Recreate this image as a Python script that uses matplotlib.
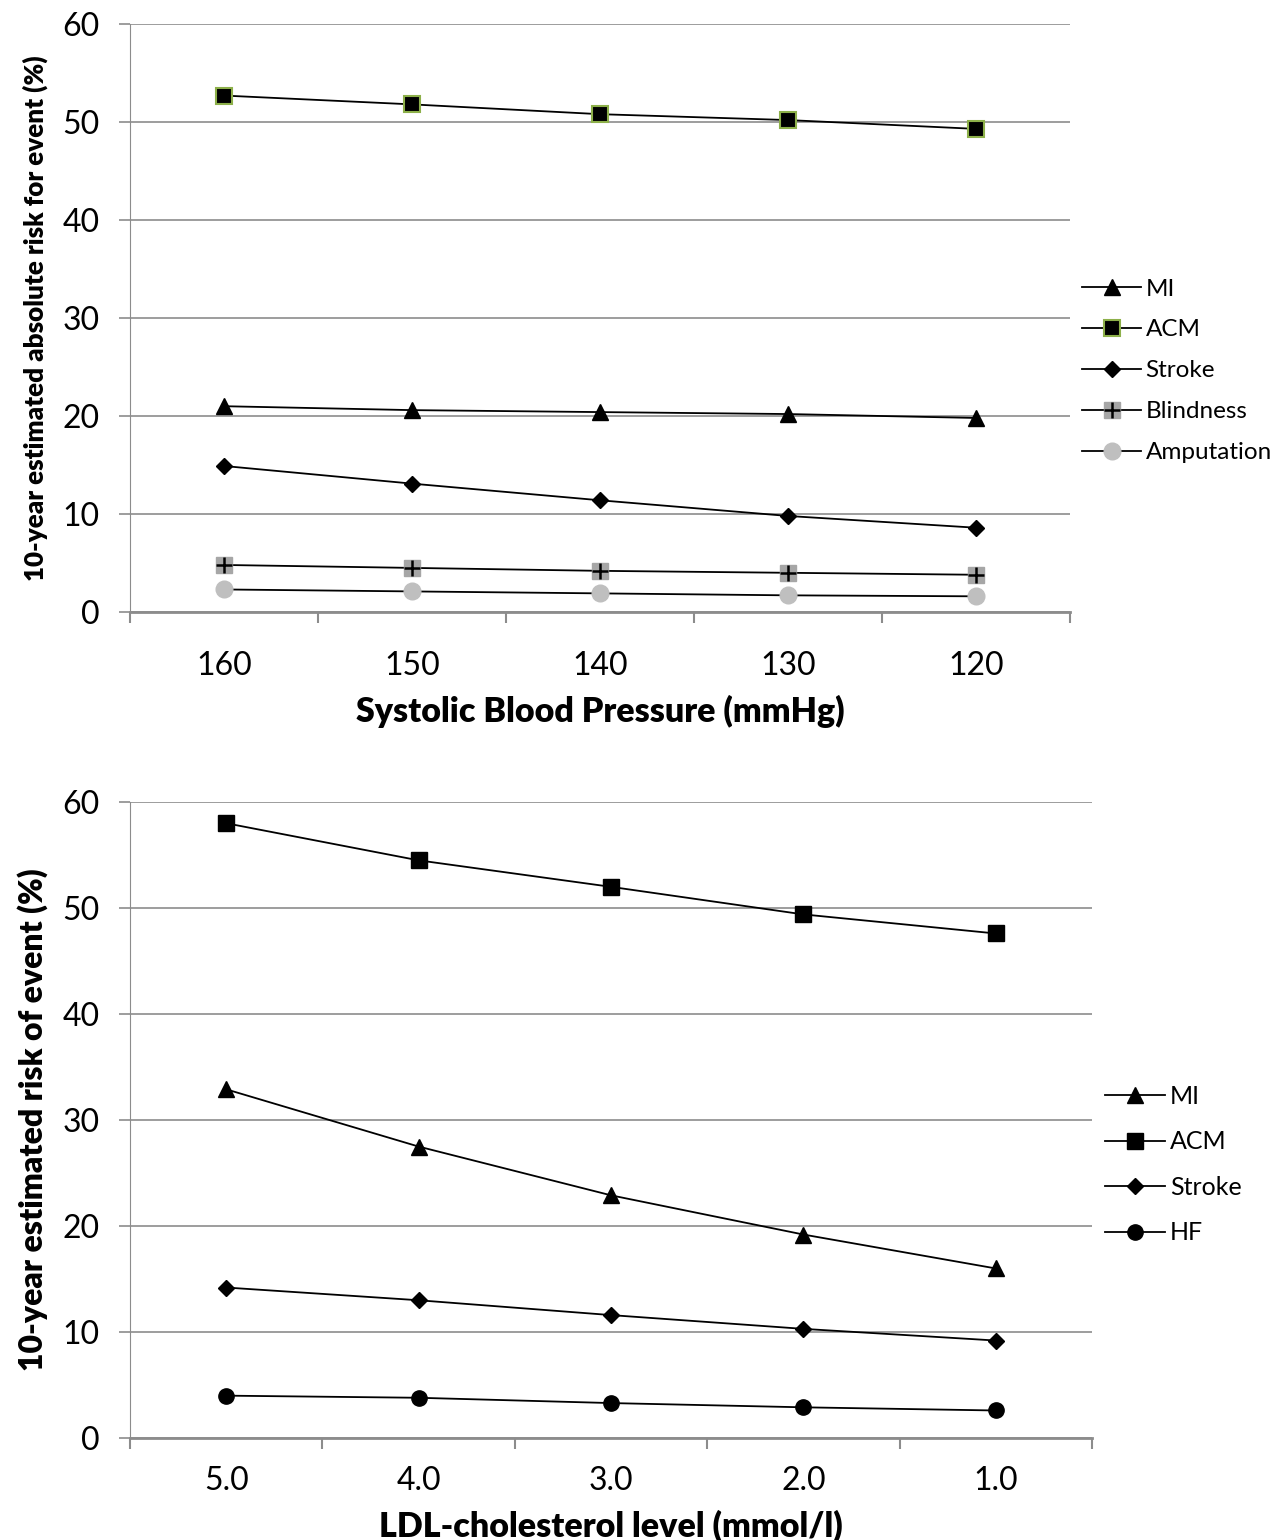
import numpy as np
import matplotlib
matplotlib.use("Agg")
from matplotlib import pyplot as plt

plt.rcParams['font.family'] = ['Lato', 'DejaVu Sans']

# top panel: systolic blood pressure
sbp_labels = ["160", "150", "140", "130", "120"]
sbp_mi = [21.0, 20.6, 20.4, 20.2, 19.8]
sbp_acm = [52.7, 51.8, 50.8, 50.2, 49.3]
sbp_stroke = [14.9, 13.1, 11.4, 9.8, 8.6]
sbp_blind = [4.8, 4.5, 4.2, 4.0, 3.8]
sbp_amput = [2.3, 2.1, 1.9, 1.7, 1.6]

# bottom panel: LDL cholesterol
ldl_labels = ["5.0", "4.0", "3.0", "2.0", "1.0"]
ldl_mi = [32.9, 27.5, 22.9, 19.2, 16.0]
ldl_acm = [58.0, 54.5, 52.0, 49.4, 47.6]
ldl_stroke = [14.2, 13.0, 11.6, 10.3, 9.2]
ldl_hf = [4.0, 3.8, 3.3, 2.9, 2.6]

grid_col = '#8c8c8c'

fig = plt.figure(figsize=(12.88, 15.4), dpi=100)

def style_axes(ax, labels, xlabel, ylabel, ysize, xpad):
    n = len(labels)
    ax.set_xlim(-0.5, n - 0.5)
    ax.set_ylim(0, 60)
    ax.set_yticks(np.arange(0, 61, 10))
    ax.yaxis.grid(True, color=grid_col, linewidth=1.2)
    ax.set_axisbelow(True)
    ax.set_xticks(np.arange(n))
    ax.set_xticklabels(labels, fontsize=23)
    ax.set_xticks(np.arange(n + 1) - 0.5, minor=True)
    ax.tick_params(axis='x', which='major', length=0, pad=xpad)
    ax.tick_params(axis='x', which='minor', length=8, width=1.5, color=grid_col, direction='out')
    ax.tick_params(axis='y', length=8, width=1.2, color=grid_col, labelsize=23, pad=14)
    for s in ['top', 'right']:
        ax.spines[s].set_visible(False)
    ax.spines['left'].set_color(grid_col)
    ax.spines['bottom'].set_color(grid_col)
    ax.spines['bottom'].set_linewidth(2)
    ax.set_xlabel(xlabel, fontsize=24.5, fontweight='heavy', labelpad=10)
    ax.set_ylabel(ylabel, fontsize=ysize, fontweight='heavy', labelpad=10)

lw = 1.3

# ---- top
ax1 = fig.add_axes([0.1009, 0.6026, 0.7298, 0.3818])
x = np.arange(len(sbp_labels))
h_mi, = ax1.plot(x, sbp_mi, '-', color='black', lw=lw, marker='^', ms=11, mfc='black', mec='black')
h_acm, = ax1.plot(x, sbp_acm, '-', color='black', lw=lw, marker='s', ms=11, mfc='black', mec='#8db04a', mew=1.5)
h_st, = ax1.plot(x, sbp_stroke, '-', color='black', lw=lw, marker='D', ms=8, mfc='black', mec='black')
h_bl, = ax1.plot(x, sbp_blind, '-', color='black', lw=lw, marker='s', ms=12, mfc='#a6a6a6', mec='#a6a6a6')
h_bl2, = ax1.plot(x, sbp_blind, ls='none', marker='+', ms=12, mec='black', mew=1.8)
h_am, = ax1.plot(x, sbp_amput, '-', color='black', lw=lw, marker='o', ms=12, mfc='#bfbfbf', mec='#bfbfbf')
style_axes(ax1, sbp_labels, 'Systolic Blood Pressure (mmHg)',
           '10-year estimated absolute risk for event (%)', 18.7, 28)
ax1.legend([h_mi, h_acm, h_st, (h_bl, h_bl2), h_am],
           ['MI', 'ACM', 'Stroke', 'Blindness', 'Amputation'],
           loc='center left', bbox_to_anchor=(0.99, 0.41), frameon=False,
           fontsize=17.5, labelspacing=0.82, handlelength=2.4, handletextpad=0.2)

# ---- bottom
ax2 = fig.add_axes([0.1009, 0.0662, 0.7469, 0.4130])
x = np.arange(len(ldl_labels))
g_mi, = ax2.plot(x, ldl_mi, '-', color='black', lw=lw, marker='^', ms=11, mfc='black', mec='black')
g_acm, = ax2.plot(x, ldl_acm, '-', color='black', lw=lw, marker='s', ms=11, mfc='black', mec='black')
g_st, = ax2.plot(x, ldl_stroke, '-', color='black', lw=lw, marker='D', ms=8, mfc='black', mec='black')
g_hf, = ax2.plot(x, ldl_hf, '-', color='black', lw=lw, marker='o', ms=11, mfc='black', mec='black')
style_axes(ax2, ldl_labels, 'LDL-cholesterol level (mmol/l)',
           '10-year estimated risk of event (%)', 23, 20)
ax2.legend([g_mi, g_acm, g_st, g_hf], ['MI', 'ACM', 'Stroke', 'HF'],
           loc='center left', bbox_to_anchor=(0.99, 0.43), frameon=False,
           fontsize=18, labelspacing=0.9, handlelength=2.4, handletextpad=0.2)

fig.savefig('out.png', dpi=100)
